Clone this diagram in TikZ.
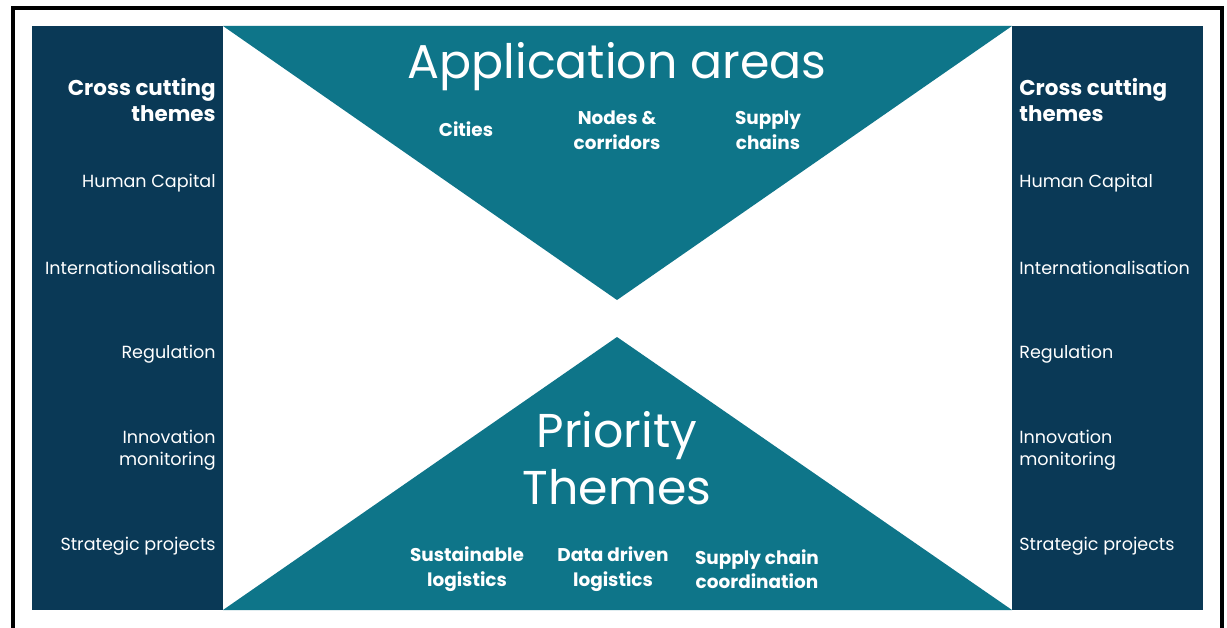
\documentclass[tikz,border=0pt]{standalone}
\usepackage{fontspec}
\setmainfont{Poppins}
\usetikzlibrary{positioning}

\definecolor{navyblue}{HTML}{0A3956}
\definecolor{appteal}{HTML}{0E7589}

\begin{document}
\begin{tikzpicture}
        [
            x=0.02cm, y=-0.02cm,
            panel/.style={fill=navyblue},
            wedge/.style={fill=appteal},
            big/.style={text=white, inner sep=0pt, align=center, font=\fontsize{27}{32.5}\selectfont},
            sub/.style={text=white, inner sep=0pt, align=center, font=\bfseries\fontsize{10.5}{14}\selectfont},
            lhead/.style={text=white, inner sep=0pt, anchor=east, align=right, font=\bfseries\fontsize{12.2}{14.8}\selectfont},
            rhead/.style={text=white, inner sep=0pt, anchor=west, align=left, font=\bfseries\fontsize{12.2}{14.8}\selectfont},
            litem/.style={text=white, inner sep=0pt, anchor=east, align=right, font=\fontsize{10}{12.5}\selectfont},
            ritem/.style={text=white, inner sep=0pt, anchor=west, align=left, font=\fontsize{10}{12.5}\selectfont}
        ]
        \useasboundingbox[fill=white] (0,0) rectangle (1227,628);
        %frame
        \draw[line width=2pt] (13,628) -- (13,8) -- (1222,8) -- (1222,628);
        %shapes
        \fill[panel] (32,26) rectangle (223,610);
        \fill[panel] (1012,26) rectangle (1203,610);
        \fill[wedge] (223,26) -- (1012,26) -- (617,300) -- cycle;
        \fill[wedge] (223,610) -- (1012,610) -- (617,337) -- cycle;
        %nodes
        \node[big] at (617,67)                  (app)           {Application areas};
        \node[sub] at (466,129)                 (cities)        {Cities};
        \node[sub] at (617,130)                 (nodes)         {Nodes \&\\corridors};
        \node[sub] at (768,130)                 (chains)        {Supply\\chains};
        \node[big] at (617,458)                 (prio)          {Priority\\Themes};
        \node[sub] at (467,569)                 (sustain)       {Sustainable\\logistics};
        \node[sub] at (613,569)                 (data)          {Data driven\\logistics};
        \node[sub] at (757,569)                 (coord)         {Supply chain\\coordination};
        %left column
        \node[lhead] at (216,100)               (l_head)        {Cross cutting\\themes};
        \node[litem] at (216,183)               (l_human)       {Human Capital};
        \node[litem] at (216,268)               (l_intl)        {Internationalisation};
        \node[litem] at (216,354)               (l_reg)         {Regulation};
        \node[litem] at (216,450)               (l_innov)       {Innovation\\monitoring};
        \node[litem] at (216,546)               (l_strat)       {Strategic projects};
        %right column
        \node[rhead] at (1019,100)              (r_head)        {Cross cutting\\themes};
        \node[ritem] at (1019,183)              (r_human)       {Human Capital};
        \node[ritem] at (1019,268)              (r_intl)        {Internationalisation};
        \node[ritem] at (1019,354)              (r_reg)         {Regulation};
        \node[ritem] at (1019,450)              (r_innov)       {Innovation\\monitoring};
        \node[ritem] at (1019,546)              (r_strat)       {Strategic projects};
    \end{tikzpicture}
\end{document}
